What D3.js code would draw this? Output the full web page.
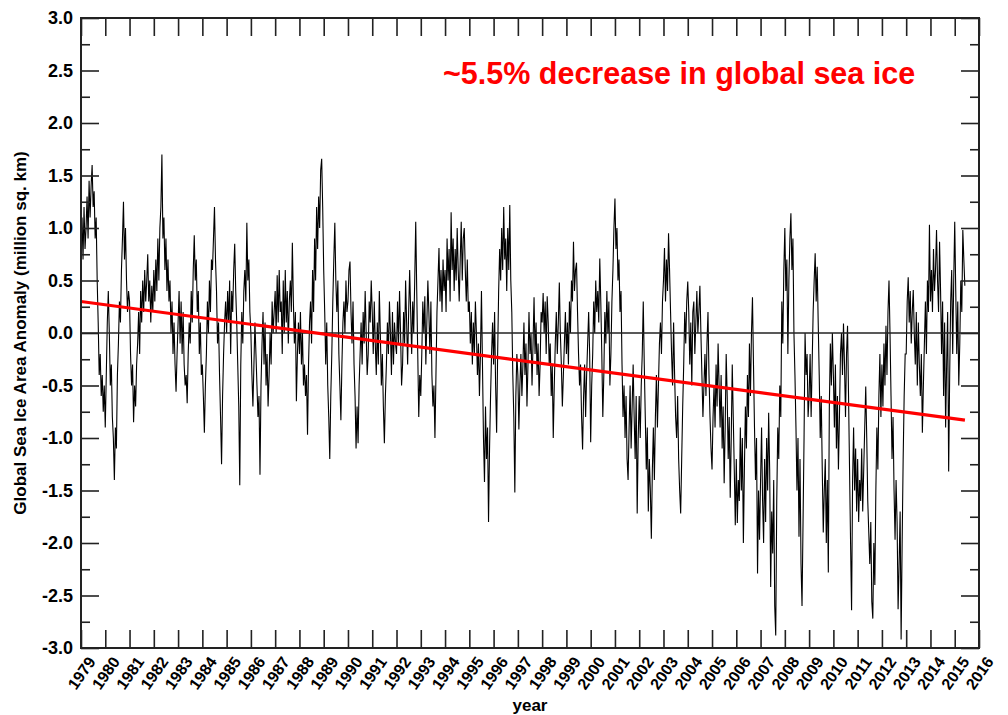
<!DOCTYPE html>
<html>
<head>
<meta charset="utf-8">
<script src="https://cdn.jsdelivr.net/npm/d3@7"></script>
<style>
  body { margin: 0; background: #fff; }
  text { font-family: "Liberation Sans", Arial, Helvetica, sans-serif; font-weight: bold; }
</style>
</head>
<body>
<div id="chart"></div>
<script>
// global sea ice area anomaly, half-monthly values (24 per year)
var startYear = 1979, perYear = 24;
var anomaly = [
  // 1979
  0.9, 1.1, 0.7, 1.2, 0.8, 1.0, 1.3, 0.9, 1.45, 1.1, 1.4, 1.6, 1.2, 1.35, 0.9, 1.1, 0.5, 0.1, -0.4, -0.2, -0.6, -0.4, -0.75, -0.5,
  // 1980
  -0.9, -0.4, 0.1, 0.4, 0.0, -0.5, -0.3, -0.8, -1.0, -1.4, -0.9, -1.1, -0.4, -0.1, 0.3, 0.1, 0.6, 0.9, 1.25, 0.7, 1.0, 0.5, 0.2, 0.4,
  // 1981
  0.3, -0.2, -0.5, -0.3, -0.85, -0.5, -0.7, -0.3, -0.1, 0.2, -0.2, 0.4, 0.1, 0.5, 0.2, 0.6, 0.3, 0.5, 0.75, 0.3, 0.5, 0.1, 0.45, 0.2,
  // 1982
  0.6, 0.3, 0.7, 0.4, 0.9, 0.5, 1.0, 1.2, 1.7, 0.9, 1.1, 0.6, 0.9, 0.4, 0.7, 0.3, 0.5, 0.0, 0.3, -0.2, 0.1, -0.3, -0.56, -0.2,
  // 1983
  0.1, 0.4, -0.1, 0.3, -0.2, 0.2, -0.3, -0.5, -0.4, -0.67, -0.2, 0.1, -0.1, 0.4, 0.1, 0.6, 0.93, 0.5, 0.7, 0.2, 0.4, -0.2, 0.1, -0.4,
  // 1984
  -0.3, -0.6, -0.95, -0.5, -0.2, 0.3, 0.0, 0.5, 0.2, 0.7, 0.6, 0.9, 1.2, 0.7, 0.4, -0.1, 0.1, -0.4, -0.8, -1.25, -0.6, -0.2, 0.1, 0.3,
  // 1985
  0.0, 0.4, 0.1, 0.5, -0.2, 0.4, 0.2, 0.6, 0.85, 0.4, 0.1, -0.3, -0.7, -1.45, -0.3, 0.2, -0.1, 0.4, 0.6, 0.3, 1.05, 0.5, 0.7, 0.2,
  // 1986
  0.0, -0.4, -0.7, -0.3, 0.1, -0.2, -0.5, -0.8, -0.6, -1.35, -0.5, -0.1, 0.2, -0.3, 0.1, -0.5, -0.2, -0.7, -0.4, 0.0, -0.3, 0.3, 0.0, 0.2,
  // 1987
  0.4, 0.0, 0.55, 0.1, 0.6, 0.2, 0.3, -0.2, 0.5, 0.0, 0.6, 0.1, 0.4, -0.1, 0.3, 0.5, 0.2, 0.86, 0.3, -0.1, 0.2, -0.65, -0.2, 0.1,
  // 1988
  -0.2, 0.2, -0.3, 0.0, -0.5, -0.3, -0.6, -0.4, -0.97, -0.3, 0.1, 0.3, -0.1, 0.6, 0.2, 0.9, 0.5, 1.2, 0.8, 1.3, 1.0, 1.55, 1.66, 1.2,
  // 1989
  0.6, 0.2, -0.3, 0.1, -0.5, -0.8, -1.2, -0.6, -0.2, 0.3, 0.7, 1.05, 0.5, 0.2, 0.5, -0.2, -0.5, -0.83, -0.3, 0.1, 0.3, 0.0, 0.5, 0.2,
  // 1990
  0.3, 0.6, 0.68, 0.2, -0.1, 0.3, -0.3, -0.6, -1.1, -0.7, -1.05, -0.5, -0.2, 0.1, -0.3, 0.2, -0.1, 0.4, 0.0, -0.4, -0.2, 0.3, 0.1, 0.5,
  // 1991
  0.2, -0.2, 0.3, -0.1, -0.4, 0.1, -0.3, 0.4, 0.0, -0.5, -0.2, -0.7, -1.05, -0.6, -0.3, 0.1, -0.2, 0.3, 0.0, -0.4, 0.2, -0.3, 0.1, -0.1,
  // 1992
  -0.2, 0.3, -0.1, 0.4, 0.0, -0.5, -0.3, 0.2, -0.1, 0.5, 0.1, -0.3, 0.2, 0.6, 0.2, -0.2, 0.3, 0.0, 0.5, 1.06, 0.4, -0.2, -0.8, -0.4,
  // 1993
  -0.6, -0.2, 0.3, 0.0, 0.35, -0.3, 0.1, 0.5, 0.2, -0.2, 0.3, -0.4, -0.7, -0.5, -1.0, -0.4, 0.2, 0.5, 0.81, 0.3, 0.6, 0.2, 0.7, 0.4,
  // 1994
  0.6, 0.2, 0.9, 0.5, 0.8, 0.3, 1.15, 0.6, 0.9, 0.4, 0.8, 0.5, 1.0, 0.6, 0.3, 0.7, 1.06, 0.5, 0.9, 1.0, 0.6, 0.3, 0.7, 0.2,
  // 1995
  0.3, -0.1, 0.2, -0.3, 0.1, -0.2, 0.3, 0.0, -0.4, -0.1, -0.6, -0.2, 0.4, -0.3, -1.0, -1.42, -0.7, -1.2, -0.9, -1.8, -1.1, -0.6, -0.2, 0.1,
  // 1996
  -0.3, 0.2, -0.5, -0.95, -0.2, 0.4, 0.8, 0.5, 1.0, 0.6, 1.2, 0.7, 0.9, 0.4, 1.0, 0.6, 1.22, 0.5, 0.2, -0.4, -0.8, -1.52, -0.6, -0.2,
  // 1997
  -0.4, -0.92, -0.5, -0.2, -0.6, -0.3, 0.1, -0.4, -0.1, -0.7, -0.3, 0.2, -0.2, 0.0, -0.5, -0.1, 0.34, -0.2, 0.1, -0.4, -0.1, -0.6, -0.3, 0.2,
  // 1998
  0.1, 0.38, 0.0, 0.3, -0.2, 0.35, 0.1, -0.3, -0.1, -0.6, -0.3, -1.0, -0.5, -0.1, 0.2, -0.2, 0.1, 0.48, 0.0, -0.3, -0.7, -0.4, -0.1, 0.2,
  // 1999
  -0.2, 0.1, -0.3, 0.3, 0.0, 0.5, 0.3, 0.87, 0.4, 0.6, 0.67, 0.2, -0.2, -0.5, -0.3, -0.8, -1.11, -0.6, -0.3, -0.8, -0.4, -0.1, 0.2, -0.2,
  // 2000
  -1.04, -0.5, -0.2, 0.3, 0.0, 0.5, 0.2, 0.4, 0.1, 0.71, 0.3, -0.2, -0.8, -0.4, 0.2, -0.1, 0.4, 0.0, 0.3, -0.5, -0.2, 0.3, 0.6, 1.0,
  // 2001
  1.28, 0.8, 1.0, 0.5, 0.7, 0.2, 0.4, -0.3, -0.8, -0.5, -1.0, -0.6, -1.2, -1.4, -0.9, -0.5, -1.1, -0.7, -0.3, -0.8, -1.2, -0.6, -1.72, -1.0,
  // 2002
  -0.6, -1.0, -0.5, -0.2, 0.3, -0.3, -0.8, -1.3, -0.9, -1.7, -1.2, -1.5, -1.96, -1.3, -0.9, -1.4, -0.8, -0.4, -0.9, -0.5, -0.1, 0.1, -0.2, 0.3,
  // 2003
  0.5, 0.81, 0.3, 0.7, 0.4, 0.95, 0.6, 0.2, -0.2, -0.5, 0.1, -0.4, -0.8, -1.0, -0.6, -1.2, -1.5, -1.72, -1.2, -0.7, -0.3, 0.2, -0.1, 0.3,
  // 2004
  0.49, 0.2, -0.3, 0.1, -0.5, 0.2, 0.3, -0.2, 0.1, 0.4, 0.0, 0.2, 0.45, 0.0, -0.4, -0.8, -0.5, -0.2, -0.6, -0.1, 0.2, -0.4, -0.8, -1.1,
  // 2005
  -1.3, -0.8, -0.5, -0.9, -0.3, -0.7, -0.1, -0.5, -0.9, -0.4, -1.1, -0.7, -1.43, -0.9, -0.2, -0.6, -1.2, -0.8, -1.57, -1.0, -0.3, -0.8, -1.3, -1.83,
  // 2006
  -1.2, -1.81, -1.4, -1.6, -0.9, -1.5, -1.0, -2.0, -1.3, -0.7, -1.1, -0.4, -0.8, -0.1, -0.6, 0.0, 0.34, -0.3, -0.9, -1.4, -1.0, -2.29, -1.5, -1.97,
  // 2007
  -1.4, -0.9, -1.6, -2.0, -1.2, -1.8, -1.0, -1.5, -0.76, -1.3, -2.42, -1.7, -2.1, -1.4, -2.6, -2.88, -1.6, -0.9, -1.2, -0.5, -0.8, 0.3, -0.1, 0.6,
  // 2008
  1.0, 0.4, 0.7, -0.2, 0.5, 0.9, 1.14, 0.6, 0.9, 0.0, -0.4, -0.9, -1.5, -1.0, -1.94, -1.2, -2.2, -2.6, -1.8, -1.0, 0.0, -0.4, -0.2, -0.8,
  // 2009
  -0.6, -0.2, -0.8, -0.3, 0.2, 0.5, 0.76, 0.3, 0.63, 0.1, -0.4, -1.0, -0.6, -1.3, -1.9, -1.5, -1.2, -2.0, -1.4, -2.28, -0.7, -0.1, -0.5, 0.0,
  // 2010
  -0.4, -0.9, -0.3, -1.1, -0.6, -1.3, -0.8, -0.2, 0.0, -0.4, 0.09, -0.3, -0.8, -0.2, 0.07, -0.6, -1.3, -2.0, -2.64, -1.4, -0.9, -1.5, -1.1, -1.7,
  // 2011
  -1.2, -1.8, -1.4, -1.6, -1.1, -1.7, -1.3, -0.9, -0.51, -1.0, -1.6, -1.9, -2.2, -1.8, -2.56, -2.72, -2.0, -2.4, -1.5, -0.9, -1.3, -0.6, -0.2, -0.8,
  // 2012
  -0.3, -0.7, -0.1, -0.5, 0.07, -0.4, 0.2, 0.5, 0.0, -0.6, -1.2, -0.8, -1.5, -1.97, -1.4, -1.8, -2.63, -2.2, -1.7, -2.92, -2.0, -1.2, -0.6, -0.2,
  // 2013
  -0.2, 0.3, 0.53, 0.1, 0.4, -0.1, 0.2, 0.41, 0.0, -0.3, 0.2, -0.5, 0.1, -0.3, -0.6, -0.2, -0.95, -0.5, -0.1, 0.3, -0.2, 0.5, 0.2, 1.03,
  // 2014
  0.3, 0.6, 0.2, 0.8, 0.4, 0.6, 0.98, 0.5, 0.2, 0.87, 0.4, -0.2, 0.3, -0.6, 0.1, -0.9, -0.3, 0.2, -1.32, -0.4, 0.3, 0.6, -0.2, 0.5,
  // 2015
  1.06, 0.4, -0.2, 0.3, -0.5, -0.1, 0.5, 0.2, 0.98, 0.7, 0.45
];

// linear trend (red line) end points
var trendYears = [1979, 2015.42];
var trendValues = [0.30, -0.83];

// tick labels
var yearTicks = d3.range(1979, 2017);
var yMajor = [-3.0, -2.5, -2.0, -1.5, -1.0, -0.5, 0.0, 0.5, 1.0, 1.5, 2.0, 2.5, 3.0];
var yMinor = [-2.75, -2.25, -1.75, -1.25, -0.75, -0.25, 0.25, 0.75, 1.25, 1.75, 2.25, 2.75];

var titleText = "~5.5% decrease in global sea ice";
var yLabel = "Global Sea Ice Area Anomaly (million sq. km)";
var xLabel = "year";

// set the dimensions and margins of the graph
var W = 1008, H = 715;
var margin = { top: 18, right: 29, bottom: 67, left: 81 },
  width = W - margin.left - margin.right,
  height = H - margin.top - margin.bottom;

var svg = d3.select("#chart")
  .append("svg")
  .attr("width", W)
  .attr("height", H);

var g = svg.append("g")
  .attr("transform", "translate(" + margin.left + "," + margin.top + ")");

var xScale = d3.scaleLinear().domain([1979, 2016]).range([0, width]);
var yScale = d3.scaleLinear().domain([-3, 3]).range([height, 0]);

var series = anomaly.map(function (v, i) {
  return { t: startYear + i / perYear, v: v };
});

// data line
var line = d3.line()
  .x(function (d) { return xScale(d.t); })
  .y(function (d) { return yScale(d.v); });

g.append("path")
  .datum(series)
  .attr("fill", "none")
  .attr("stroke", "#000")
  .attr("stroke-width", 1.1)
  .attr("d", line);

// zero line
g.append("line")
  .attr("x1", 0).attr("x2", width)
  .attr("y1", yScale(0)).attr("y2", yScale(0))
  .attr("stroke", "#222")
  .attr("stroke-width", 1.5);

// trend
g.append("path")
  .datum(trendYears.map(function (t, i) { return { t: t, v: trendValues[i] }; }))
  .attr("fill", "none")
  .attr("stroke", "#ff0000")
  .attr("stroke-width", 3.2)
  .attr("d", line);

// axes
function styleAxis(sel) {
  sel.select(".domain").remove();
  sel.selectAll(".tick line").attr("stroke", "#222").attr("stroke-width", 1.6);
  sel.selectAll("text").attr("fill", "#000").style("font-weight", "bold");
}

var fmt = function (d) { return d.toFixed(1); };

g.append("g")
  .attr("transform", "translate(0," + height + ")")
  .call(d3.axisBottom(xScale).tickValues(yearTicks).tickSize(-18).tickSizeOuter(0).tickFormat(d3.format("d")))
  .call(styleAxis)
  .call(function (a) {
    a.selectAll("text")
      .attr("y", 0).attr("x", 0).attr("dy", "0.35em")
      .attr("text-anchor", "middle")
      .attr("transform", "translate(0,25) rotate(-55)")
      .style("font-size", "16px");
  });

g.append("g")
  .call(d3.axisTop(xScale).tickValues(yearTicks).tickSize(-18).tickSizeOuter(0).tickFormat(""))
  .call(styleAxis);

g.append("g")
  .call(d3.axisLeft(yScale).tickValues(yMajor).tickSize(-18).tickSizeOuter(0).tickFormat(fmt).tickPadding(8))
  .call(styleAxis)
  .call(function (a) { a.selectAll("text").style("font-size", "18px"); });

g.append("g")
  .call(d3.axisLeft(yScale).tickValues(yMinor).tickSize(-9).tickSizeOuter(0).tickFormat(""))
  .call(styleAxis);

g.append("g")
  .attr("transform", "translate(" + width + ",0)")
  .call(d3.axisRight(yScale).tickValues(yMajor).tickSize(-18).tickSizeOuter(0).tickFormat(""))
  .call(styleAxis);

g.append("g")
  .attr("transform", "translate(" + width + ",0)")
  .call(d3.axisRight(yScale).tickValues(yMinor).tickSize(-9).tickSizeOuter(0).tickFormat(""))
  .call(styleAxis);

// frame
g.append("rect")
  .attr("x", 0).attr("y", 0)
  .attr("width", width).attr("height", height)
  .attr("fill", "none")
  .attr("stroke", "#222")
  .attr("stroke-width", 2);

// labels
svg.append("text")
  .attr("x", 443).attr("y", 84)
  .attr("fill", "#ff0000")
  .style("font-size", "30.5px")
  .text(titleText);

svg.append("text")
  .attr("x", margin.left + width / 2).attr("y", 711)
  .attr("text-anchor", "middle")
  .style("font-size", "17px")
  .text(xLabel);

svg.append("text")
  .attr("transform", "translate(26," + (margin.top + height / 2) + ") rotate(-90)")
  .attr("text-anchor", "middle")
  .style("font-size", "17px")
  .text(yLabel);
</script>
</body>
</html>
